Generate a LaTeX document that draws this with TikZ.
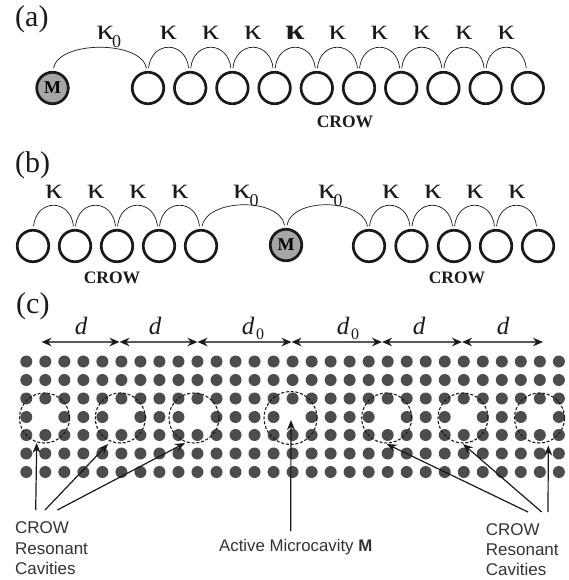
\documentclass[tikz,border=0pt]{standalone}
\usepackage{fontspec}
\usepackage{graphicx}
\setmainfont{Liberation Serif}
\newfontfamily\labfont{Liberation Sans}
\usetikzlibrary{arrows.meta,calc}
\definecolor{dotc}{HTML}{4D4D4D}
\definecolor{mfill}{HTML}{A6A6A6}
\definecolor{inkc}{HTML}{1A1A1A}
\newcommand{\kp}{\scalebox{1.2}[1]{κ}}
\tikzset{
  x=1pt,y=-1pt,
  cav/.style={circle,draw=inkc,line width=2.7pt,minimum size=31.5pt,inner sep=0pt,outer sep=0pt},
  mcav/.style={cav,fill=mfill,font=\bfseries\fontsize{18}{18}\selectfont},
  pdot/.style={circle,fill=dotc,draw=none,minimum size=12pt,inner sep=0pt},
  ring/.style={circle,draw=inkc,line width=1.1pt,dash pattern=on 3pt off 1.8pt,inner sep=0pt,outer sep=0pt},
  cpl/.style={draw=inkc,line width=0.7pt},
  kap/.style={font=\fontsize{29}{29}\selectfont,inner sep=0pt,text=inkc},
  sub/.style={font=\fontsize{18}{18}\selectfont,inner sep=0pt,text=inkc},
  panel/.style={font=\fontsize{30}{30}\selectfont,inner sep=0pt,anchor=base west,text=inkc},
  crow/.style={font=\bfseries\fontsize{17.5}{17.5}\selectfont,inner sep=0pt,text=inkc},
  dimlab/.style={font=\itshape\fontsize{25}{25}\selectfont,inner sep=0pt,text=inkc},
  dimline/.style={draw=black!65,line width=1.4pt,{Stealth[length=10pt,width=8.5pt,inkc]}-{Stealth[length=10pt,width=8.5pt,inkc]}},
  ptr/.style={draw=inkc,line width=1.2pt,-{Stealth[length=10pt,width=8pt]}},
  txt/.style={font=\labfont\fontsize{17}{17}\selectfont,inner sep=0pt,anchor=base west,text=black!80}
}
\newcommand{\smallarc}[2]{\draw[cpl] ([shift={(0.5,-4)}]#1.north) .. controls +(3,-28) and +(-3,-28) .. ([shift={(-1.5,-4)}]#2.north);}
\newcommand{\bigarc}[2]{\draw[cpl] ([shift={(1,-4)}]#1.north) .. controls +(5,-28) and +(-5,-28) .. ([shift={(-1.5,-4)}]#2.north);}
\begin{document}
\begin{tikzpicture}
\useasboundingbox (0,0) rectangle (569,580);
% panel labels
\node[panel] (la) at (15,27) {(a)};
\node[panel] (lb) at (15,172) {(b)};
\node[panel] (lc) at (16,313) {(c)};
% (a)
\node[mcav] (am) at (52.5,88) {M};
\foreach \i in {1,...,10} \node[cav] (a\i) at ({148+42.2*(\i-1)},88) {};
\bigarc{am}{a1}
\foreach \i [evaluate=\i as \j using int(\i+1)] in {1,...,9} {\smallarc{a\i}{a\j}}
\node[kap] (ak0) at (105.5,33) {\kp};
\node[sub] (as0) at (116.5,42) {0};
\foreach \i in {1,2,3,5,6,7,8,9} \node[kap] (ak\i) at ({168.5+42.2*(\i-1)},33) {\kp};
\node[kap,font=\bfseries\fontsize{29}{29}\selectfont] (ak4) at (295,33) {\kp};
\node[crow] (acrow) at (345,122) {CROW};
% (b)
\node[mcav] (bm) at (286,245) {M};
\foreach \i/\x in {1/33,2/75,3/117,4/159,5/201,6/369,7/411.5,8/454,9/496,10/538} \node[cav] (b\i) at (\x,246) {};
\foreach \i/\j in {1/2,2/3,3/4,4/5,6/7,7/8,8/9,9/10} {\smallarc{b\i}{b\j}}
\bigarc{b5}{bm}
\bigarc{bm}{b6}
\foreach \i/\x in {1/54,2/96,3/138,4/180,5/391,6/433,7/475,8/517} \node[kap] (bk\i) at (\x,192) {\kp};
\node[kap] (bk01) at (242,192) {\kp};
\node[sub] (bs01) at (254,201) {0};
\node[kap] (bk02) at (327,192) {\kp};
\node[sub] (bs02) at (338,201) {0};
\node[crow] (bcrow1) at (112,278) {CROW};
\node[crow] (bcrow2) at (457,278) {CROW};
% (c) lattice
\foreach \r/\y in {0/361.5,1/380,2/398.5,3/417,4/435,5/453.5,6/472} {
  \foreach \c in {0,...,28} {
    \pgfmathtruncatemacro{\skip}{(\r==3)&&(\c==1||\c==5||\c==9||\c==14||\c==19||\c==23||\c==27)}
    \ifnum\skip=0
      \node[pdot] (p\r-\c) at ({26.3+19.02*\c},\y) {};
    \fi
  }
}
% rings
\foreach \n/\x/\d in {1/44.5/50,2/120.3/50,3/194/50,4/290.5/53,5/386.7/50,6/463/50,7/539.5/50}
  \node[ring,minimum size=\d pt] (r\n) at (\x,418) {};
% dimension arrows
\foreach \n/\x in {0/41.5,1/119.5,2/197.5,3/291.5,4/382,5/462,6/543}
  \coordinate (t\n) at (\x,342);
\foreach \a/\b in {0/1,1/2,2/3,3/4,4/5,5/6} \draw[dimline] (t\a) -- (t\b);
\node[dimlab] (d1) at (81,326) {d};
\node[dimlab] (d2) at (155,326) {d};
\node[dimlab] (d3) at (248,326) {d};
\node[sub,font=\fontsize{16}{16}\selectfont] (d3s) at (260,334) {0};
\node[dimlab] (d4) at (343,326) {d};
\node[sub,font=\fontsize{16}{16}\selectfont] (d4s) at (355,334) {0};
\node[dimlab] (d5) at (419,326) {d};
\node[dimlab] (d6) at (503,326) {d};
% pointers
\foreach \n/\x/\y in {a/35.7/510,b/45/510,c/57.3/510,m/290.7/531,d/528/512,e/541.7/512,f/548/512}
  \coordinate (s\n) at (\x,\y);
\foreach \n/\x/\y in {a/36.7/443,b/108/444,c/185/443,m/291/420,d/386.7/444,e/463/444,f/548.3/445.5}
  \coordinate (e\n) at (\x,\y);
\foreach \n in {a,b,c,m,d,e,f} \draw[ptr] (s\n) -- (e\n);
% texts
\node[txt] (t1) at (15,533) {CROW};
\node[txt] (t2) at (15,554) {Resonant};
\node[txt] (t3) at (15,574) {Cavities};
\node[txt,font=\labfont\fontsize{16.8}{16.8}\selectfont] (t4) at (219,551.7) {Active Microcavity \textbf{M}};
\node[txt] (t5) at (485.7,535.5) {CROW};
\node[txt] (t6) at (485.7,555) {Resonant};
\node[txt] (t7) at (485.7,575) {Cavities};
\end{tikzpicture}
\end{document}
